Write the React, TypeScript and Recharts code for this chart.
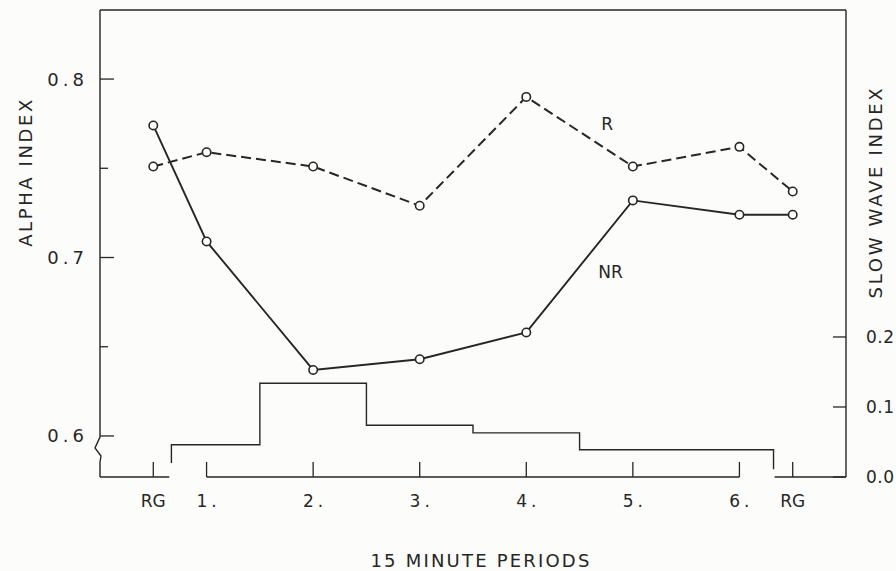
import { ComposedChart, Line, XAxis, YAxis, ReferenceLine, ReferenceDot } from "recharts";

const INK = "#262626";
const FONT = "DejaVu Sans, sans-serif";

// x positions: RG before, periods 1-6, RG after
const PERIOD_X = [0.5, 1, 2, 3, 4, 5, 6, 6.5];
const PERIOD_LABELS = ["RG", "1.", "2.", "3.", "4.", "5.", "6.", "RG"];
const R_ALPHA = [0.751, 0.759, 0.751, 0.729, 0.79, 0.751, 0.762, 0.737];
const NR_ALPHA = [0.774, 0.709, 0.637, 0.643, 0.658, 0.732, 0.724, 0.724];

// slow wave index step outline
const STEP_X = [0.67, 0.67, 1.5, 2.5, 3.5, 4.5, 6.32, 6.32];
const SLOW_WAVE = [0.02, 0.046, 0.134, 0.074, 0.063, 0.039, 0.039, 0.011];

const ALPHA_TICKS = [0.6, 0.65, 0.7, 0.75, 0.8];
const SLOW_TICKS = [0, 0.1, 0.2];
const ALPHA_DOMAIN = [0.577, 0.8387];
const SLOW_DOMAIN = [0, 0.667];
const BASELINE_PIECES = [
  [0, 0.65],
  [1, 6],
  [6.33, 7],
];

const alphaData = PERIOD_X.map((x, i) => ({ x, r: R_ALPHA[i], nr: NR_ALPHA[i] }));
const stepData = STEP_X.map((x, i) => ({ x, sw: SLOW_WAVE[i] }));

const textStyle = { fontFamily: FONT, fill: "#262626" };

function PeriodTick({ x, y, payload }: any) {
  const label = PERIOD_LABELS[PERIOD_X.indexOf(payload.value)];
  const dotted = label.endsWith(".");
  return (
    <g>
      <line x1={x} x2={x} y1={y - 15} y2={y} stroke={INK} strokeWidth={1.3} />
      <text
        x={dotted ? x + 2 : x}
        y={y + 24}
        textAnchor="middle"
        dominantBaseline="central"
        fontSize={17}
        letterSpacing={dotted ? 4 : 0}
        style={textStyle}
      >
        {label}
      </text>
    </g>
  );
}

function AlphaTick({ x, y, payload }: any) {
  const v = payload.value;
  const major = Math.abs(v * 10 - Math.round(v * 10)) < 1e-6;
  return (
    <g>
      <line x1={x} x2={x + (major ? 14 : 8)} y1={y} y2={y} stroke={INK} strokeWidth={1.3} />
      {major && (
        <text x={x - 12} y={y} textAnchor="end" dominantBaseline="central" fontSize={18} letterSpacing={4} style={textStyle}>
          {v.toFixed(1)}
        </text>
      )}
    </g>
  );
}

function SlowTick({ x, y, payload }: any) {
  return (
    <g>
      <line x1={x - 13} x2={x} y1={y} y2={y} stroke={INK} strokeWidth={1.3} />
      <text x={x + 20} y={y} textAnchor="start" dominantBaseline="central" fontSize={17} letterSpacing={0.5} style={textStyle}>
        {payload.value.toFixed(1)}
      </text>
    </g>
  );
}

function BrokenAxis(props: any) {
  const { x1, y1, y2 } = props;
  const top = Math.min(y1, y2);
  const bottom = Math.max(y1, y2);
  const d = `M ${x1} ${top} V ${bottom - 40} L ${x1 - 5} ${bottom - 29} L ${x1 + 1} ${bottom - 21} L ${x1} ${bottom - 15} V ${bottom}`;
  return <path d={d} stroke={INK} strokeWidth={1.4} fill="none" />;
}

const dotStyle = { r: 4.2, fill: "#fff", stroke: INK, strokeWidth: 1.6, strokeDasharray: "none" };

export default function App() {
  return (
    <div style={{ position: "absolute", left: 0, top: 0, width: 896, height: 571, background: "#fcfcfa" }}>
      <ComposedChart width={896} height={571} margin={{ top: 10, right: 0, bottom: 0, left: 0 }}>
        <XAxis
          dataKey="x"
          type="number"
          domain={[0, 7]}
          ticks={PERIOD_X}
          interval={0}
          axisLine={false}
          tickLine={false}
          tickSize={0}
          tickMargin={0}
          height={94}
          tick={<PeriodTick />}
          label={() => (
            <text x={481} y={560} textAnchor="middle" dominantBaseline="central" fontSize={18} letterSpacing={2.2} style={textStyle}>
              15 MINUTE PERIODS
            </text>
          )}
        />
        <YAxis
          yAxisId="alpha"
          type="number"
          domain={ALPHA_DOMAIN}
          ticks={ALPHA_TICKS}
          interval={0}
          allowDataOverflow
          width={100}
          axisLine={false}
          tickLine={false}
          tickSize={0}
          tickMargin={0}
          tick={<AlphaTick />}
          label={() => (
            <text x={25} y={172} transform="rotate(-90 25 172)" textAnchor="middle" dominantBaseline="central" fontSize={18} letterSpacing={2.6} style={textStyle}>
              ALPHA INDEX
            </text>
          )}
        />
        <YAxis
          yAxisId="slow"
          orientation="right"
          type="number"
          domain={SLOW_DOMAIN}
          ticks={SLOW_TICKS}
          interval={0}
          allowDataOverflow
          width={50}
          axisLine={{ stroke: INK, strokeWidth: 1.4 }}
          tickLine={false}
          tickSize={0}
          tickMargin={0}
          tick={<SlowTick />}
          label={() => (
            <text x={875} y={192} transform="rotate(-90 875 192)" textAnchor="middle" dominantBaseline="central" fontSize={18} letterSpacing={2.7} style={textStyle}>
              SLOW WAVE INDEX
            </text>
          )}
        />

        <ReferenceLine yAxisId="alpha" y={ALPHA_DOMAIN[1]} stroke={INK} strokeWidth={1.4} />
        <ReferenceLine yAxisId="alpha" x={0} shape={BrokenAxis} />
        {BASELINE_PIECES.map(([a, b], i) => (
          <ReferenceLine
            key={i}
            yAxisId="slow"
            segment={[
              { x: a, y: 0 },
              { x: b, y: 0 },
            ]}
            stroke={INK}
            strokeWidth={1.4}
          />
        ))}

        <Line
          yAxisId="slow"
          data={stepData}
          dataKey="sw"
          type="stepAfter"
          stroke={INK}
          strokeWidth={1.4}
          dot={false}
          isAnimationActive={false}
        />
        <Line
          yAxisId="alpha"
          data={alphaData}
          dataKey="nr"
          type="linear"
          stroke={INK}
          strokeWidth={1.9}
          dot={dotStyle}
          isAnimationActive={false}
        />
        <Line
          yAxisId="alpha"
          data={alphaData}
          dataKey="r"
          type="linear"
          stroke={INK}
          strokeWidth={2}
          strokeDasharray="10 5"
          dot={dotStyle}
          isAnimationActive={false}
        />

        <ReferenceDot
          yAxisId="alpha"
          x={4.76}
          y={0.775}
          r={1}
          fill="none"
          stroke="none"
          label={{ value: "R", position: "center", fontSize: 17, fontFamily: FONT, fill: "#262626" }}
        />
        <ReferenceDot
          yAxisId="alpha"
          x={4.79}
          y={0.692}
          r={1}
          fill="none"
          stroke="none"
          label={{ value: "NR", position: "center", fontSize: 17, fontFamily: FONT, fill: "#262626" }}
        />
      </ComposedChart>
    </div>
  );
}
